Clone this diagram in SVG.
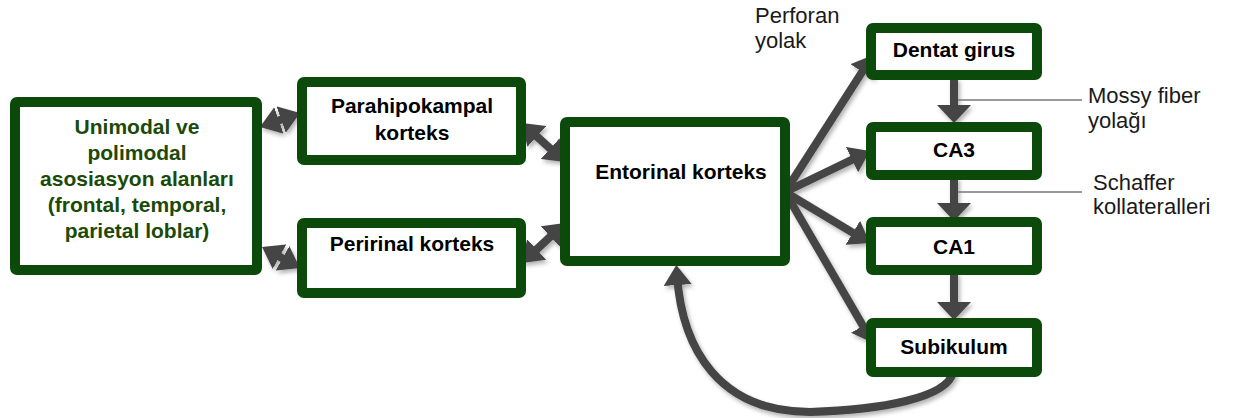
<svg xmlns="http://www.w3.org/2000/svg" width="1236" height="418" viewBox="0 0 1236 418">
<style>
.box{fill:#ffffff;stroke:#0b4a0b;stroke-width:10}
.t{font-family:"Liberation Sans",Arial,sans-serif;font-weight:bold;font-size:21px;text-anchor:middle;fill:#000}
.tg{fill:#1b4a08}
.lbl{font-family:"Liberation Sans",Arial,sans-serif;font-size:22px;fill:#1a1a1a}
.c{fill:none;stroke:#444;stroke-width:8}
.lead{stroke:#777;stroke-width:1.5;fill:none}
</style>
<defs>
<marker id="ah" viewBox="0 0 20 28" refX="10" refY="14" markerWidth="20" markerHeight="28" markerUnits="userSpaceOnUse" orient="auto-start-reverse">
<path d="M0,0 L20,14 L0,28 z" fill="#444"/>
</marker>
<marker id="av" viewBox="0 0 18 34" refX="8" refY="17" markerWidth="18" markerHeight="34" markerUnits="userSpaceOnUse" orient="auto">
<path d="M0,0 L18,17 L0,34 z" fill="#444"/>
</marker>
<filter id="sh" x="-20%" y="-20%" width="140%" height="140%">
<feDropShadow dx="2" dy="3" stdDeviation="2" flood-color="#000" flood-opacity="0.3"/>
</filter>
</defs>

<g id="connectors" filter="url(#sh)">
<line class="c" x1="269.4" y1="123.7" x2="290.6" y2="116.3" marker-start="url(#ah)" marker-end="url(#ah)"/>
<line class="c" x1="270.8" y1="251.8" x2="291.2" y2="263.2" marker-start="url(#ah)" marker-end="url(#ah)"/>
<line class="c" x1="529.4" y1="129.7" x2="557.6" y2="155.3" marker-start="url(#ah)" marker-end="url(#ah)"/>
<line class="c" x1="557.7" y1="229.8" x2="529.3" y2="256.2" marker-start="url(#ah)" marker-end="url(#ah)"/>
<line class="c" x1="785" y1="192" x2="867.6" y2="63.4" marker-end="url(#ah)"/>
<line class="c" x1="785" y1="192" x2="861" y2="155.3" marker-end="url(#ah)"/>
<line class="c" x1="785" y1="192" x2="861.4" y2="237.9" marker-end="url(#ah)"/>
<line class="c" x1="785" y1="192" x2="868" y2="334.4" marker-end="url(#ah)"/>
<line class="c" x1="954" y1="78" x2="954" y2="113" marker-end="url(#av)"/>
<line class="c" x1="954" y1="177" x2="954" y2="211" marker-end="url(#av)"/>
<line class="c" x1="954" y1="272" x2="954" y2="310" marker-end="url(#av)"/>
<path class="c" d="M953,372 C948,398 880,410 810,412 C720,412 682,350 677,275" marker-end="url(#ah)"/>
</g>

<g id="leaders">
<line class="lead" x1="958" y1="100" x2="1082" y2="100"/>
<line class="lead" x1="958" y1="192" x2="1082" y2="192"/>
</g>

<g id="unimodal">
<rect class="box" x="15" y="102" width="242" height="168" rx="2"/>
<text class="t tg" x="137" y="134">Unimodal ve</text>
<text class="t tg" x="137" y="160">polimodal</text>
<text class="t tg" x="137" y="186">asosiasyon alanları</text>
<text class="t tg" x="137" y="212">(frontal, temporal,</text>
<text class="t tg" x="137" y="238">parietal loblar)</text>
</g>

<g id="parahipokampal">
<rect class="box" x="302" y="82" width="219" height="78" rx="2"/>
<text class="t" x="412" y="113">Parahipokampal</text>
<text class="t" x="412" y="140">korteks</text>
</g>

<g id="peririnal">
<rect class="box" x="302" y="223" width="219" height="70" rx="2"/>
<text class="t" x="412" y="251">Peririnal korteks</text>
</g>

<g id="entorinal">
<rect class="box" x="565" y="122" width="220" height="139" rx="2"/>
<text class="t" x="681" y="179">Entorinal korteks</text>
</g>

<g id="dentat">
<rect class="box" x="871" y="28" width="166" height="47" rx="2"/>
<text class="t" x="954" y="57">Dentat girus</text>
</g>

<g id="ca3">
<rect class="box" x="871" y="127" width="166" height="48" rx="2"/>
<text class="t" x="954" y="157">CA3</text>
</g>

<g id="ca1">
<rect class="box" x="871" y="222" width="166" height="48" rx="2"/>
<text class="t" x="954" y="254">CA1</text>
</g>

<g id="subikulum">
<rect class="box" x="871" y="323" width="166" height="49" rx="2"/>
<text class="t" x="954" y="354">Subikulum</text>
</g>

<g id="labels">
<text class="lbl" x="755" y="23">Perforan</text>
<text class="lbl" x="755" y="48">yolak</text>
<text class="lbl" x="1088" y="103">Mossy fiber</text>
<text class="lbl" x="1088" y="128">yolağı</text>
<text class="lbl" x="1093" y="190">Schaffer</text>
<text class="lbl" x="1093" y="214">kollateralleri</text>
</g>
</svg>
